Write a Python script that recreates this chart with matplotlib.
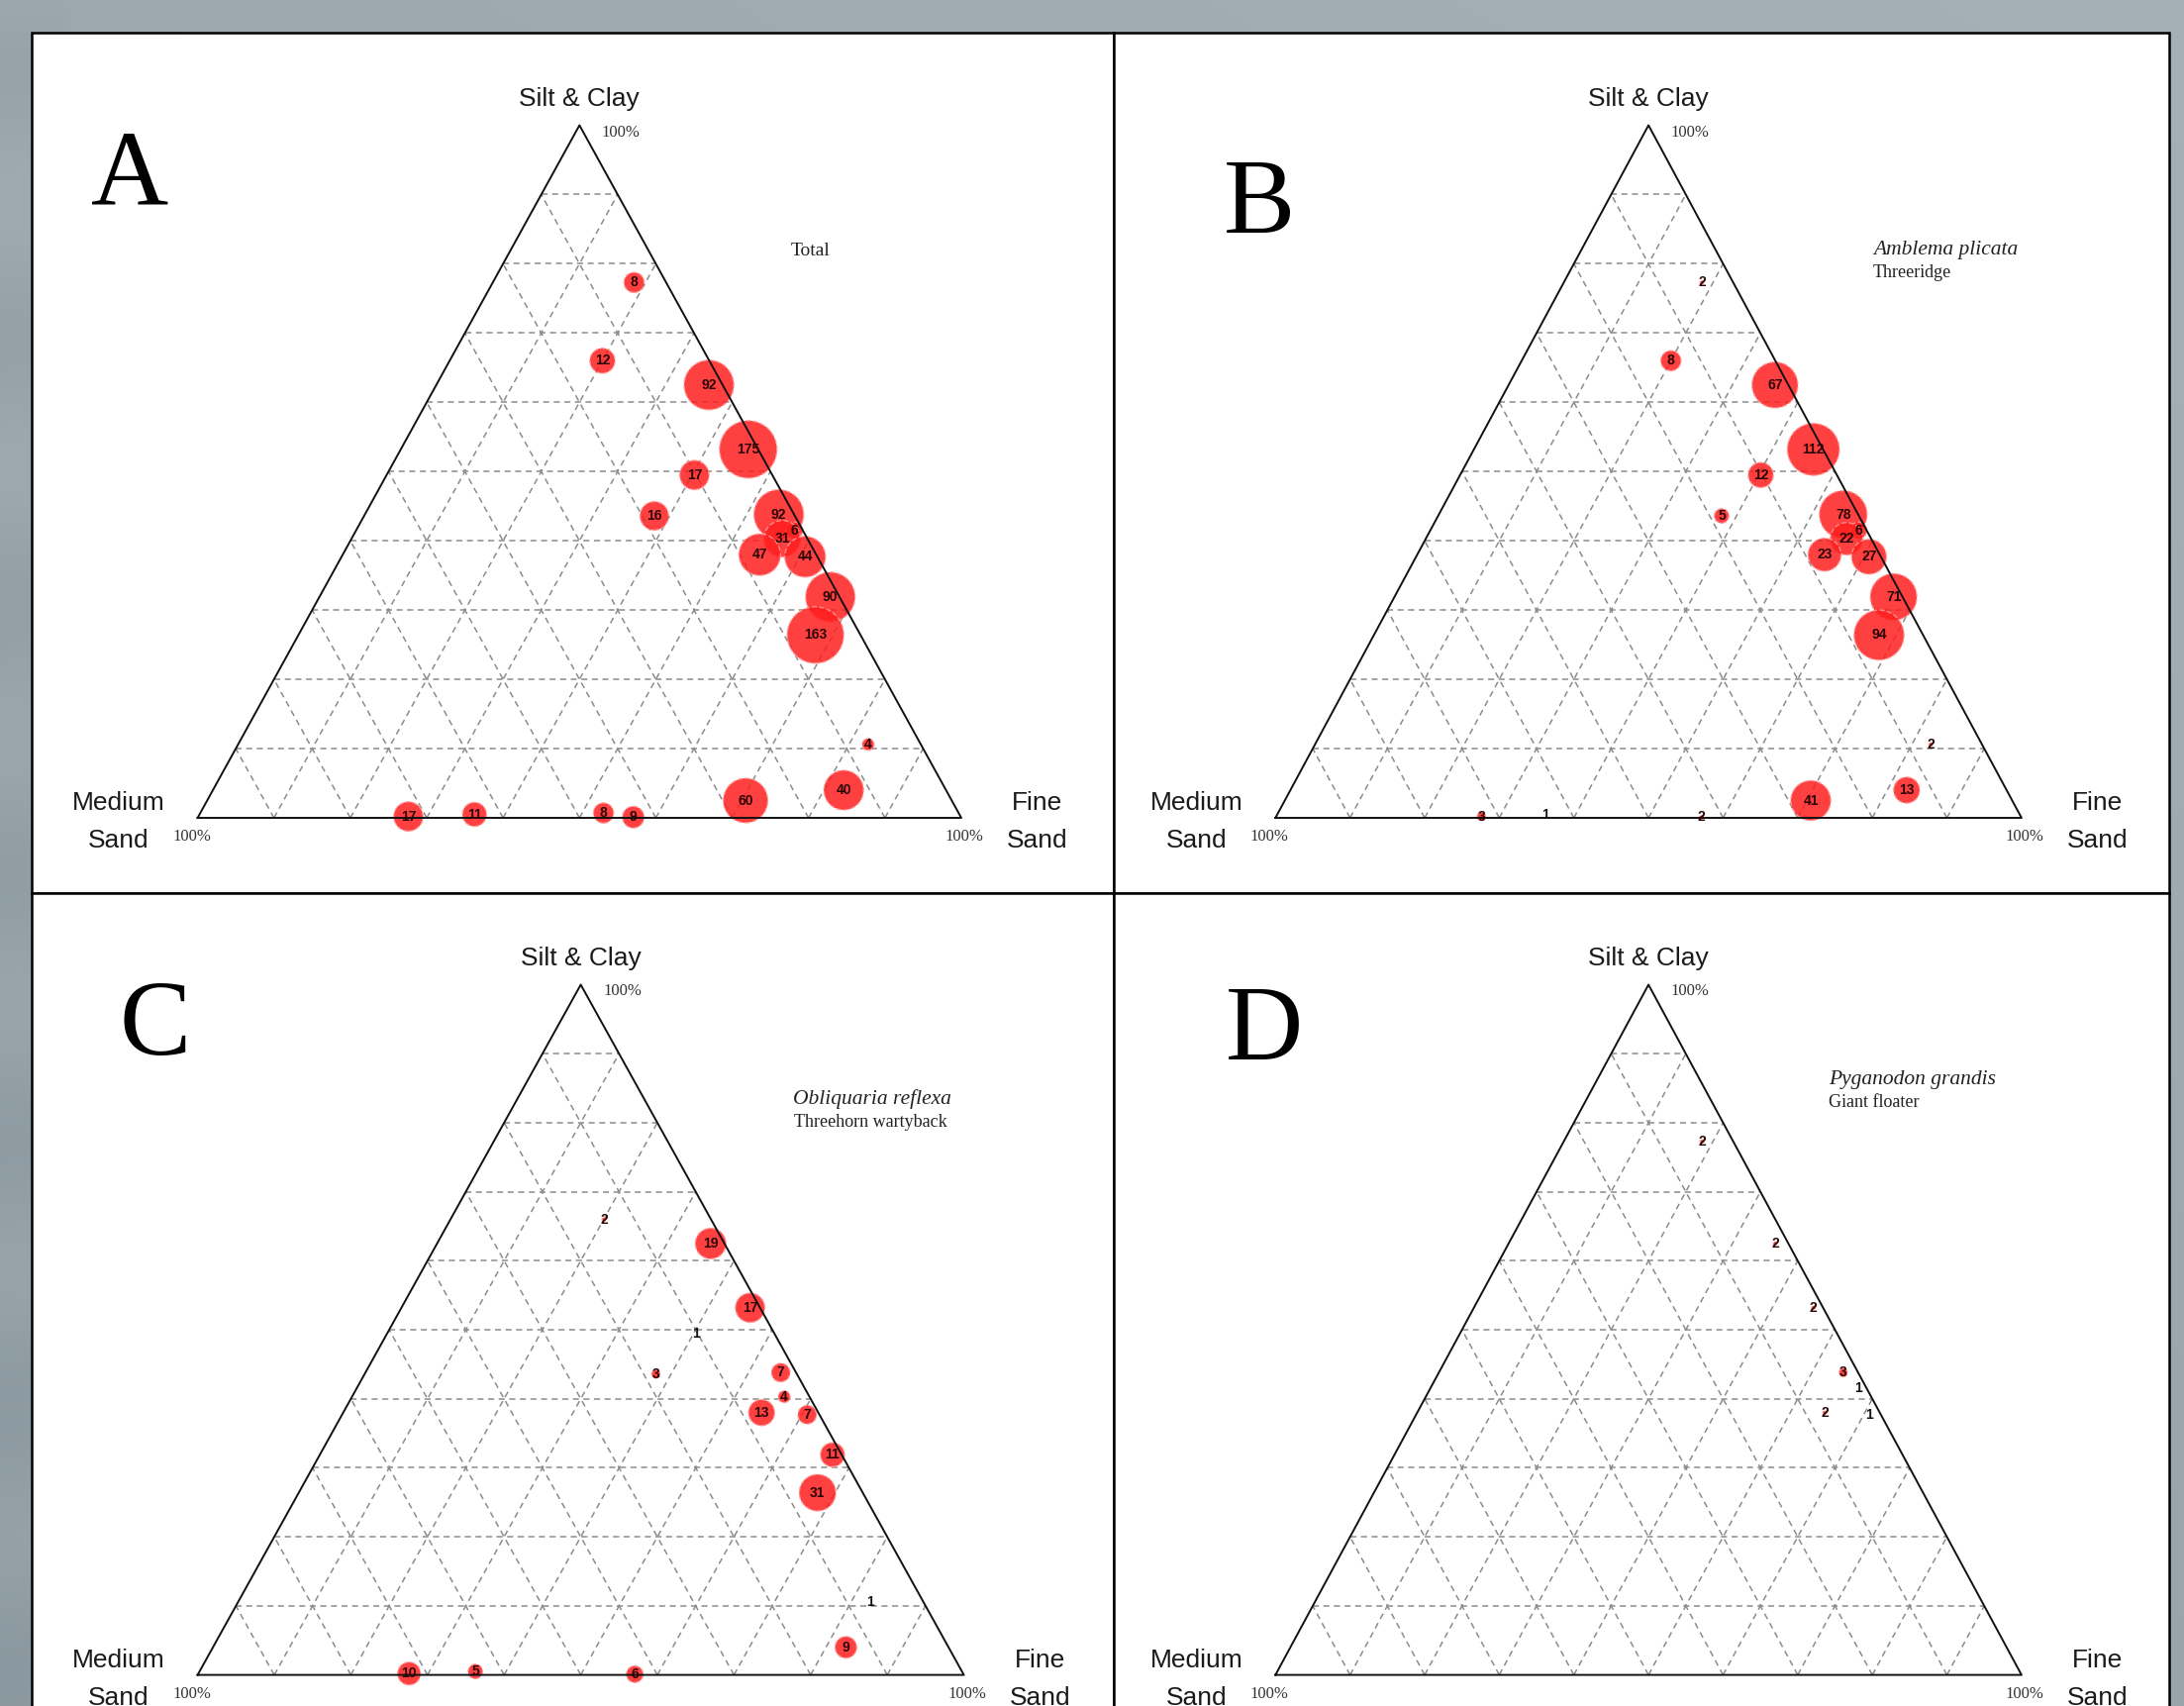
import numpy as np
import matplotlib
matplotlib.use("Agg")
import matplotlib.pyplot as plt
from matplotlib.patches import Rectangle

# ---------------- data ----------------
# sediment composition of each sampled site (%); medium sand = 100 - silt - fine
site_silt = [77.3, 66.0, 62.5, 53.2, 49.5, 43.6, 43.8, 41.5, 40.3, 38.0,
             37.7, 31.9, 26.4, 10.6, 4.0, 2.5, 0.2, 0.5, 0.7, 0.1]
site_fine = [18.5, 20.0, 35.7, 45.5, 40.3, 38.0, 54.2, 57.4, 56.4, 54.6,
             60.7, 66.9, 67.7, 82.5, 82.6, 70.5, 27.5, 36.0, 52.8, 57.0]

# mussel counts per site for each panel
counts_total = [8, 12, 92, 175, 17, 16, 92, 6, 31, 47, 44, 90, 163, 4, 40, 60, 17, 11, 8, 9]
counts_amblema = [2, 8, 67, 112, 12, 5, 78, 6, 22, 23, 27, 71, 94, 2, 13, 41, 3, 1, 0, 2]
counts_obliquaria = [0, 2, 19, 17, 1, 3, 7, 0, 4, 13, 7, 11, 31, 1, 9, 0, 10, 5, 0, 6]
counts_pyganodon = [2, 0, 2, 2, 0, 0, 3, 1, 0, 2, 1, 0, 0, 0, 0, 0, 0, 0, 0, 0]

panel_letters = ["A", "B", "C", "D"]
species_names = ["Total", "Amblema plicata", "Obliquaria reflexa", "Pyganodon grandis"]
common_names = ["", "Threeridge", "Threehorn wartyback", "Giant floater"]
panel_counts = [counts_total, counts_amblema, counts_obliquaria, counts_pyganodon]

axis_top = "Silt & Clay"
axis_left = ("Medium", "Sand")
axis_right = ("Fine", "Sand")
grid_steps = [10, 20, 30, 40, 50, 60, 70, 80, 90]

# ---------------- layout (pixels) ----------------
W, H, DPI = 2206, 1723, 100
# triangle: left base x, right base x, base y, apex y
tri_geom = [(199.6, 971.0, 826.0, 126.5),
            (1288.3, 2041.9, 826.0, 126.5),
            (199.6, 973.6, 1691.6, 994.5),
            (1288.3, 2041.9, 1691.6, 994.5)]
panel_rects = [(32, 33, 1125, 902), (1125, 33, 2191, 902),
               (32, 902, 1125, 1735), (1125, 902, 2191, 1735)]
letter_pos = [(131.5, 207), (1272, 235), (157, 1065), (1277, 1070)]
title_pos = [(798.5, 253.6), (1892, 252.5), (801.4, 1110), (1847.2, 1090)]
common_pos = [None, (1892, 275), (802, 1133.6), (1847, 1114)]

SANS = ["Liberation Sans", "DejaVu Sans"]
SERIF = ["Liberation Serif", "DejaVu Serif"]

fig = plt.figure(figsize=(W / DPI, H / DPI), dpi=DPI)

# background (textured grey-blue)
bg = fig.add_axes([0, 0, 1, 1], zorder=-10)
yy, xx = np.mgrid[0:1:300j, 0:1:300j]
base = np.array([164, 177, 182]) / 255.0
dark = np.array([128, 143, 150]) / 255.0
t = np.clip(0.35 * yy + 0.25 * (1 - xx) + 0.12 * np.sin(yy * 40) * (xx < 0.03), 0, 1)
img = base[None, None, :] * (1 - t[..., None]) + dark[None, None, :] * t[..., None]
bg.imshow(img, extent=[0, W, H, 0], aspect="auto", interpolation="bicubic")
bg.set_xlim(0, W)
bg.set_ylim(H, 0)
bg.axis("off")

for (x0, y0, x1, y1) in panel_rects:
    bg.add_patch(Rectangle((x0, y0), x1 - x0, y1 - y0, facecolor="white",
                           edgecolor="black", linewidth=1.8, zorder=1))

for i in range(4):
    lx, rx, by, ay = tri_geom[i]
    ax = fig.add_axes([lx / W, 1 - by / H, (rx - lx) / W, (by - ay) / H], zorder=2)
    ax.set_xlim(0, 1)
    ax.set_ylim(0, 1)
    ax.axis("off")
    ax.patch.set_visible(False)

    # grid
    gkw = dict(color="#8c8c8c", lw=1.1, ls=(0, (4, 3)), clip_on=False, zorder=1)
    for g in grid_steps:
        k = g / 100.0
        ax.plot([k / 2, 1 - k / 2], [k, k], **gkw)                 # constant silt
        ax.plot([k, k + (1 - k) / 2], [0, 1 - k], **gkw)           # constant fine
        ax.plot([1 - k, (1 - k) / 2], [0, 1 - k], **gkw)           # constant medium

    # outline
    ax.plot([0, 1, 0.5, 0], [0, 0, 1, 0], color="#111111", lw=1.4,
            clip_on=False, zorder=4)

    # bubbles
    silt = np.array(site_silt) / 100.0
    fine = np.array(site_fine) / 100.0
    px = fine + silt / 2
    py = silt
    cnt = np.array(panel_counts[i], dtype=float)
    for xv, yv, n in zip(px, py, cnt):
        if n <= 0:
            continue
        if n >= 2:
            r = 6.1 * np.log(n) - 2.5
            s = (2 * r * 72.0 / DPI) ** 2
            ax.scatter([xv], [yv], s=s, facecolor="#ff1e1e", alpha=0.85,
                       edgecolor="#ff9a9a", linewidths=1.0, linestyle="--",
                       clip_on=False, zorder=3)
            col = "#2b0505"
        else:
            col = "#111111"
        ax.text(xv, yv, f"{int(n)}", ha="center", va="center", fontsize=10,
                fontweight="bold", color=col, family=SANS, zorder=6, clip_on=False)

    # axis labels
    akw = dict(xycoords="data", textcoords="offset pixels", family=SANS,
               fontsize=19, color="#1a1a1a", ha="center", va="center")
    ax.annotate(axis_top, xy=(0.5, 1), xytext=(0, 26), **akw)
    ax.annotate(axis_left[0], xy=(0, 0), xytext=(-80, 15), **akw)
    ax.annotate(axis_left[1], xy=(0, 0), xytext=(-80, -23), **akw)
    ax.annotate(axis_right[0], xy=(1, 0), xytext=(77, 15), **akw)
    ax.annotate(axis_right[1], xy=(1, 0), xytext=(77, -23), **akw)
    pkw = dict(xycoords="data", textcoords="offset pixels", family=SERIF,
               fontsize=12, color="#333333", ha="center", va="center")
    ax.annotate("100%", xy=(0.5, 1), xytext=(42, -7), **pkw)
    ax.annotate("100%", xy=(0, 0), xytext=(-6, -19), **pkw)
    ax.annotate("100%", xy=(1, 0), xytext=(3, -19), **pkw)

    # panel letter and titles
    bg.text(*letter_pos[i], panel_letters[i], family=SERIF, fontsize=78,
            ha="center", va="baseline", color="black", zorder=5)
    bg.text(*title_pos[i], species_names[i], family=SERIF,
            fontsize=14 if i == 0 else 15.5,
            style="normal" if i == 0 else "italic",
            ha="left", va="center", color="#222222", zorder=5)
    if common_pos[i] is not None:
        bg.text(*common_pos[i], common_names[i], family=SERIF, fontsize=13,
                ha="left", va="center", color="#222222", zorder=5)

fig.savefig("out.png", dpi=DPI)
